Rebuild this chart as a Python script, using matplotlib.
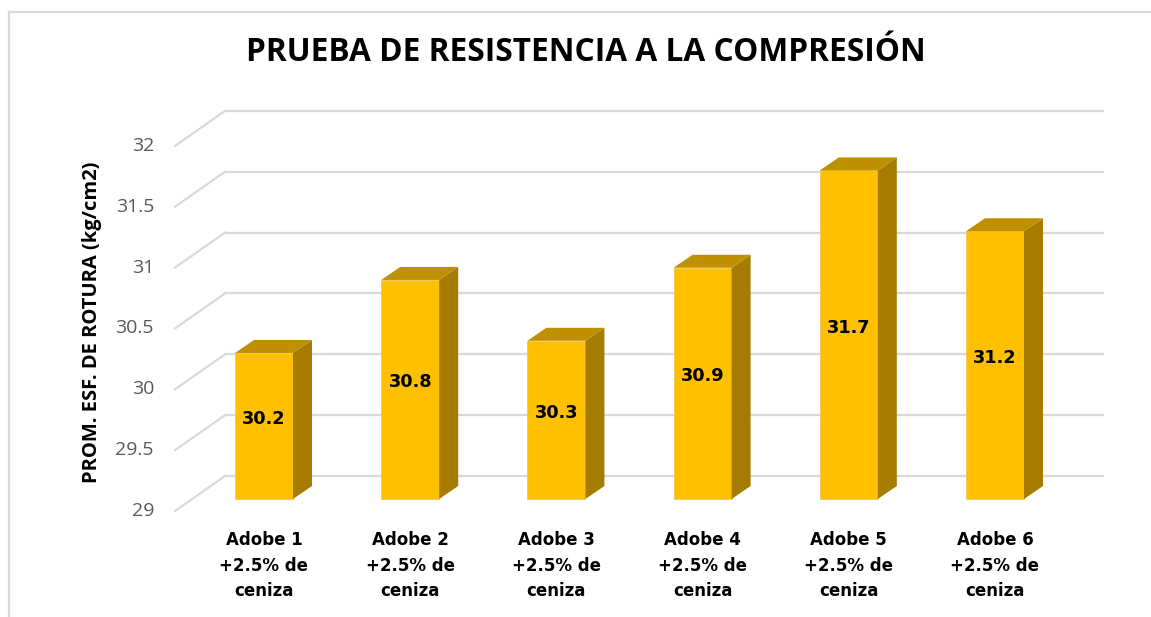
import matplotlib
matplotlib.use("Agg")
import matplotlib.pyplot as plt
from matplotlib.patches import Polygon
from matplotlib.lines import Line2D

# data
categories = ["Adobe 1\n+2.5% de\nceniza", "Adobe 2\n+2.5% de\nceniza",
              "Adobe 3\n+2.5% de\nceniza", "Adobe 4\n+2.5% de\nceniza",
              "Adobe 5\n+2.5% de\nceniza", "Adobe 6\n+2.5% de\nceniza"]
values = [30.2, 30.8, 30.3, 30.9, 31.7, 31.2]
y_ticks = [29, 29.5, 30, 30.5, 31, 31.5, 32]
y_tick_labels = ["29", "29.5", "30", "30.5", "31", "31.5", "32"]

title = "PRUEBA DE RESISTENCIA A LA COMPRESIÓN"
ylabel = "PROM. ESF. DE ROTURA (kg/cm2)"

# layout in pixels of the 1151x617 picture
W, H = 1151, 617
PX_X = 146.2      # pixels per category step
PX_Y = 121.7      # pixels per value unit
X0, Y0 = 264, 499  # pixel of first category centre / value 29 on bar front
BASE = 29

FRONT = "#FFC000"
SIDE = "#A67C00"
TOP = "#BF9000"
GRID = "#D9D9D9"


def px_x(p):
    return (p - X0) / PX_X


def px_dy(p):
    return p / PX_Y


fig = plt.figure(figsize=(W / 100, H / 100), dpi=100)
ax = fig.add_axes([0, 0, 1, 1])
ax.set_xlim(px_x(0), px_x(W))
ax.set_ylim(BASE - (H - Y0) / PX_Y, BASE + Y0 / PX_Y)
ax.axis("off")

# walls: back gridlines plus diagonal floor/left wall lines
x_front, x_back, x_right = px_x(175), px_x(225), px_x(1103)
front_dy, back_dy = px_dy(-12), px_dy(23)
for t, lab in zip(y_ticks, y_tick_labels):
    ax.plot([x_back, x_right], [t + back_dy, t + back_dy], color=GRID, lw=1.6, zorder=1)
    ax.plot([x_front, x_back], [t + front_dy, t + back_dy], color=GRID, lw=1.6, zorder=1)
    ax.text(px_x(154), t + front_dy, lab, ha="right", va="center",
            fontsize=14, color="#595959", family="Open Sans")

# 3d-looking columns
w = 58 / PX_X
dx, dy = 19 / PX_X, px_dy(13)
xs = list(range(len(values)))
ax.bar(xs, [v - BASE for v in values], bottom=BASE, width=w, color=FRONT,
       edgecolor="#F2C55C", linewidth=0.6, zorder=3)
for x, v in zip(xs, values):
    r, l = x + w / 2, x - w / 2
    ax.add_patch(Polygon([(r, BASE), (r + dx, BASE + dy), (r + dx, v + dy), (r, v)],
                         closed=True, facecolor=SIDE, edgecolor="none", zorder=3))
    ax.add_patch(Polygon([(l, v), (l + dx, v + dy), (r + dx, v + dy), (r, v)],
                         closed=True, facecolor=TOP, edgecolor="none", zorder=3))
    ax.text(x, (BASE + v) / 2 + px_dy(7), f"{v:.1f}", ha="center", va="center",
            fontsize=12.8, fontweight="bold", color="black", family="DejaVu Sans",
            zorder=4)

# category labels under each column
for x, c in zip(xs, categories):
    ax.text(x, BASE - px_dy(531 - Y0), c, ha="center", va="top", fontsize=12,
            fontweight="bold", color="black", family="DejaVu Sans", linespacing=1.55)

ax.text(px_x(586), BASE + px_dy(Y0 - 53), title, ha="center", va="center",
        fontsize=22.8, fontweight="bold", family="Open Sans", color="black")
ax.text(px_x(92), BASE + px_dy(Y0 - 322), ylabel, ha="center", va="center",
        rotation=90, fontsize=14.5, fontweight="bold", family="Open Sans", color="black")

# chart frame (only top and left edges are visible)
fig.add_artist(Line2D([9 / W, 9 / W], [0, 1 - 12 / H], transform=fig.transFigure,
                      color=GRID, lw=1.6))
fig.add_artist(Line2D([9 / W, 1], [1 - 12 / H, 1 - 12 / H], transform=fig.transFigure,
                      color=GRID, lw=1.6))

fig.savefig("out.png", dpi=100)
